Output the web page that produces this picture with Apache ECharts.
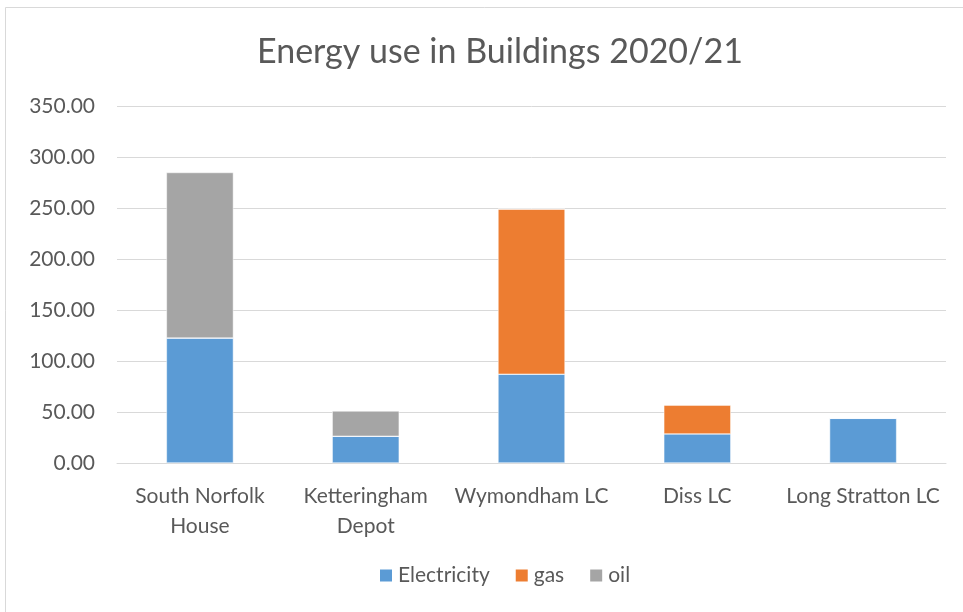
<!DOCTYPE html>
<html>
<head>
<meta charset="utf-8">
<script src="https://cdn.jsdelivr.net/npm/echarts@6/dist/echarts.min.js"></script>
<style>
  html, body { margin: 0; padding: 0; background: #fff; }
  #chart { width: 963px; height: 612px; }
</style>
</head>
<body>
<div id="chart"></div>
<script>
// 数据
const buildings = ['South Norfolk\nHouse', 'Ketteringham\nDepot', 'Wymondham LC', 'Diss LC', 'Long Stratton LC'];
const electricity = [122.5, 26.2, 87.0, 28.5, 43.8];
const gas = [0, 0, 162.0, 28.4, 0];
const oil = [162.3, 24.8, 0, 0, 0];

const txt = '#595959';
const font = 'Lato, "Open Sans", sans-serif';

let myChart = echarts.init(document.getElementById('chart'));
myChart.setOption({
  animation: false,
  backgroundColor: '#fff',
  graphic: [{
    type: 'rect',
    shape: { x: 5.5, y: 7.5, width: 960, height: 610 },
    style: { fill: 'none', stroke: '#d9d9d9', lineWidth: 1 }
  }],
  title: {
    text: 'Energy use in Buildings 2020/21',
    left: 252,
    top: 30,
    textStyle: { color: txt, fontSize: 34, fontWeight: 'normal', fontFamily: font }
  },
  legend: {
    bottom: 21,
    left: 373,
    itemWidth: 14,
    itemHeight: 14,
    itemGap: 24,
    icon: 'rect',
    textStyle: { color: txt, fontSize: 21, fontFamily: font },
    data: ['Electricity', 'gas', 'oil']
  },
  grid: { left: 117, right: 17, top: 106, bottom: 149 },
  xAxis: {
    type: 'category',
    data: buildings,
    axisLine: { lineStyle: { color: '#d9d9d9' } },
    axisTick: { show: false },
    axisLabel: { color: txt, fontSize: 21, fontFamily: font, margin: 18, lineHeight: 30, interval: 0 }
  },
  yAxis: {
    type: 'value',
    min: 0,
    max: 350,
    interval: 50,
    axisLine: { show: false },
    axisTick: { show: false },
    splitLine: { lineStyle: { color: '#d9d9d9', width: 1 } },
    axisLabel: {
      color: txt, fontSize: 21, fontFamily: font, margin: 22,
      formatter: v => v.toFixed(2)
    }
  },
  series: [
    {
      name: 'Electricity', type: 'bar', stack: 'e', data: electricity, barWidth: 67,
      itemStyle: { color: '#5b9bd5', borderColor: '#fff', borderWidth: 0.5 }
    },
    {
      name: 'gas', type: 'bar', stack: 'e', data: gas,
      itemStyle: { color: '#ed7d31', borderColor: '#fff', borderWidth: 0.5 }
    },
    {
      name: 'oil', type: 'bar', stack: 'e', data: oil,
      itemStyle: { color: '#a5a5a5', borderColor: '#fff', borderWidth: 0.5 }
    }
  ]
});
</script>
</body>
</html>
